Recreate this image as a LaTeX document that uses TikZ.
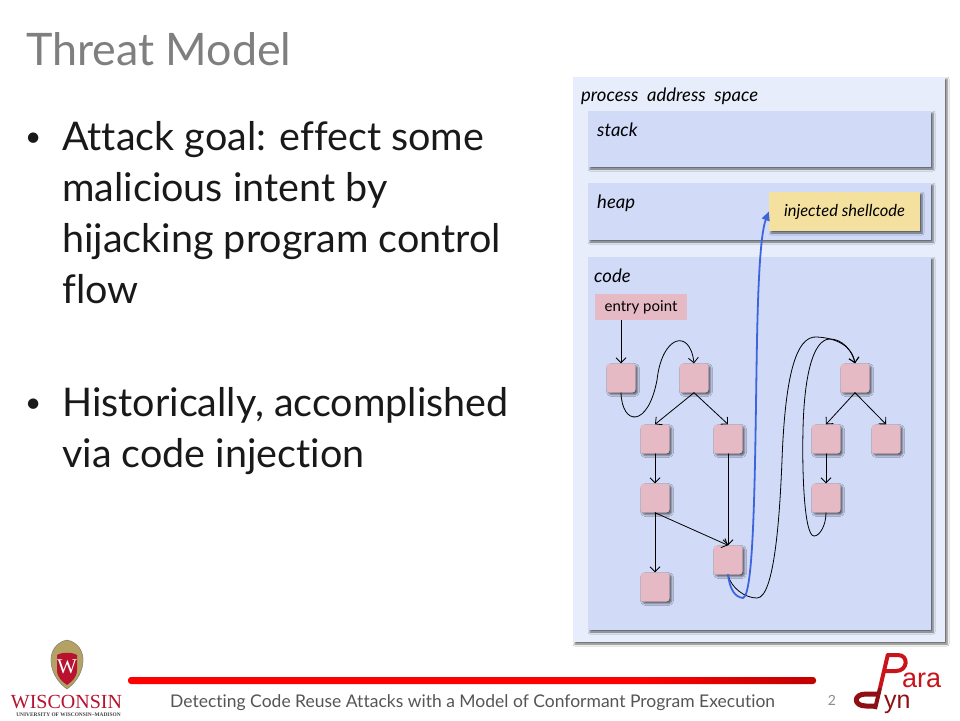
\documentclass[tikz,border=0pt]{standalone}
\usepackage{fontspec}
\setmainfont{Lato}[Ligatures=NoCommon]
\newfontfamily\logoserif{Liberation Serif}
\newfontfamily\logosans{Liberation Sans}
\usetikzlibrary{arrows,arrows.meta,shadows.blur}
\definecolor{spaceblue}{HTML}{E7EDFB}
\definecolor{panelblue}{HTML}{D1DBF8}
\definecolor{blockpink}{HTML}{E5BAC5}
\definecolor{shellyellow}{HTML}{F5E19F}
\definecolor{hijackblue}{HTML}{3D64DC}
\definecolor{titlegray}{HTML}{7F7F7F}
\definecolor{footgray}{HTML}{555555}
\definecolor{wisred}{HTML}{B8122F}
\definecolor{crestgold}{HTML}{B3A263}
\definecolor{parared}{HTML}{C8141A}
\definecolor{paradark}{HTML}{8E1014}
\pgfdeclarehorizontalshading{ruleshade}{100bp}{color(0bp)=(red); color(50bp)=(red); color(62bp)=(red); color(78bp)=(red!70!black); color(100bp)=(black)}
\tikzset{
    shadowed/.style={blur shadow={shadow xshift=2pt,shadow yshift=-2pt,shadow blur radius=2pt,shadow opacity=60}},
    panel/.style={fill=panelblue,shadowed},
    block/.style={fill=blockpink,rounded corners=3pt,shadowed,minimum size=29pt,inner sep=0pt},
    bodytext/.style={anchor=base west,inner sep=0pt,text=black!90,font=\fontsize{39.5}{51}\selectfont},
    bullettext/.style={anchor=base west,inner sep=0pt,text=black!90,font=\fontsize{28}{30}\selectfont},
    paneltext/.style={anchor=base west,inner sep=0pt,font=\fontsize{18.5}{20}\selectfont\itshape},
    flow/.style={line width=0.8pt},
}
\begin{document}
\begin{tikzpicture}[line cap=round,line join=round,>={Straight Barb[length=5pt,width=10pt]},x=1pt,y=-1pt]
    \useasboundingbox (0,0) rectangle (960,720);
    \fill[white] (0,0) rectangle (960,720);

    \node[anchor=base west,inner sep=0pt,text=titlegray,font=\fontsize{44.8}{50}\selectfont] (title) at (26,65) {Threat Model};
    \node[bullettext] (bullet1) at (25,146) {•};
    \node[bodytext] (goal1) at (62,150) {Attack goal: effect some};
    \node[bodytext] (goal2) at (62,201) {malicious intent by};
    \node[bodytext] (goal3) at (62,252) {hijacking program control};
    \node[bodytext] (goal4) at (62,303) {flow};
    \node[bullettext] (bullet2) at (25,412) {•};
    \node[bodytext] (hist1) at (62,416) {Historically, accomplished};
    \node[bodytext] (hist2) at (62,467) {via code injection};

    % address space panels
    \fill[fill=spaceblue,shadowed] (573,77) rectangle (945,642);
    \fill[panel] (588,111) rectangle (931,167);
    \fill[panel] (588,183) rectangle (931,240);
    \fill[panel] (588,257) rectangle (931,630);
    \node[paneltext] (space) at (581,101) {process\ \ address\ \ space};
    \node[paneltext] (stack) at (597,136) {stack};
    \node[paneltext] (heap) at (597,208) {heap};
    \node[paneltext] (code) at (594,282) {code};
    \node[fill=shellyellow,shadowed,minimum width=151pt,minimum height=39pt,inner sep=0pt,font=\fontsize{16.5}{18}\selectfont\itshape] (shell) at (844.5,211.5) {injected shellcode};
    \node[fill=blockpink,minimum width=92pt,minimum height=26pt,inner sep=0pt,font=\fontsize{15}{16}\selectfont] (entry) at (641,307) {entry point};

    % basic blocks
    \node[block] (a1) at (621,378) {};
    \node[block] (a2) at (694,378) {};
    \node[block] (a3) at (655,439) {};
    \node[block] (a4) at (728,439) {};
    \node[block] (a5) at (655,498) {};
    \node[block] (a6) at (728,560) {};
    \node[block] (a7) at (655,587) {};
    \node[block] (b1) at (855,378) {};
    \node[block] (b2) at (826,439) {};
    \node[block] (b3) at (886,439) {};
    \node[block] (b4) at (826,498) {};

    \draw[flow,->] (entry.south -| a1) -- (a1.north);
    \draw[flow,->] (a1.south) .. controls (622,426) and (648,428) .. (657,380) .. controls (662,335) and (690,328) .. (a2.north);
    \draw[flow,->] (a2.south) -- (a3.north);
    \draw[flow,->] (a2.south) -- (a4.north);
    \draw[flow,->] (a3.south) -- (a5.north);
    \draw[flow,->] (a4.south) -- (a6.north);
    \draw[flow,->] (a5.south) -- (a6.north);
    \draw[flow,->] (a5.south) -- (a7.north);
    \draw[flow,->] (b1.south) -- (b2.north);
    \draw[flow,->] (b1.south) -- (b3.north);
    \draw[flow,->] (b2.south) -- (b4.north);
    \draw[flow,->] (a6.south) .. controls (731,588) and (745,598) .. (757,598) .. controls (775,598) and (780,510) .. (782,460) .. controls (785,380) and (795,335) .. (817,337) .. controls (835,338) and (852,345) .. (b1.north);
    \draw[flow,->] (b4.south) .. controls (826,525) and (820,536) .. (814,536) .. controls (804,536) and (802,470) .. (803,430) .. controls (804,380) and (812,339) .. (830,339) .. controls (842,339) and (852,350) .. (b1.north);
    \draw[-{Triangle[length=9pt,width=8pt]},hijackblue,line width=1.8pt] (a6.south) .. controls (730,590) and (735,597) .. (743,598) .. controls (755,595) and (755,450) .. (757,340) .. controls (758,290) and (760,235) .. (shell.west);

    % footer
    \shade[shading=ruleshade,rounded corners=3pt] (128,677) rectangle (816,684);
    \node[anchor=base west,inner sep=0pt,text=footgray,font=\fontsize{17.5}{20}\selectfont] (foot) at (170,707) {Detecting Code Reuse Attacks with a Model of Conformant Program Execution};
    \node[anchor=base,inner sep=0pt,text=black!45,font=\fontsize{14}{16}\selectfont] (page) at (832,705) {2};

    % wisconsin crest
    \filldraw[fill=crestgold,draw=black!55] (67,640) .. controls (78,642) and (84,652) .. (83,662) .. controls (82,675) and (74,684) .. (67,689) .. controls (60,684) and (52,675) .. (51,662) .. controls (50,652) and (56,642) .. (67,640) -- cycle;
    \fill[wisred] (57,655) .. controls (62,652) and (72,652) .. (77,655) -- (77,670) .. controls (77,678) and (71,682) .. (67,685) .. controls (63,682) and (57,678) .. (57,670) -- cycle;
    \node[inner sep=0pt,text=white,font=\logoserif\fontsize{21}{22}\selectfont] (crest) at (67,667) {W};
    \node[anchor=base,inner sep=0pt,text=wisred,font=\logoserif\fontsize{20}{24}\selectfont] (wisc) at (66.5,708) {WISCONSIN};
    \node[anchor=base,inner sep=0pt,text=black!75,font=\logoserif\bfseries\fontsize{5.4}{6}\selectfont] (madison) at (68.5,716) {UNIVERSITY OF WISCONSIN–MADISON};

    % paradyn logo
    \draw[parared,line width=4pt,line cap=butt] (888,654) -- (880,688);
    \draw[paradark,line width=4pt,line cap=butt] (880,688) -- (875,709);
    \draw[parared,line width=4pt,line cap=butt] (887,655) -- (898,655) .. controls (909,655) and (908,671) .. (896,671) -- (885,671);
    \draw[paradark,line width=5pt,line cap=butt] (877,694) -- (866,694) .. controls (853,694) and (853,706) .. (866,706) -- (875,706);
    \node[anchor=base west,inner sep=0pt,text=parared,font=\logosans\fontsize{27}{28}\selectfont] (logoara) at (902,687) {ara};
    \node[anchor=base west,inner sep=0pt,text=paradark,font=\logosans\fontsize{25}{28}\selectfont] (logoyn) at (884,708) {yn};
\end{tikzpicture}
\end{document}
